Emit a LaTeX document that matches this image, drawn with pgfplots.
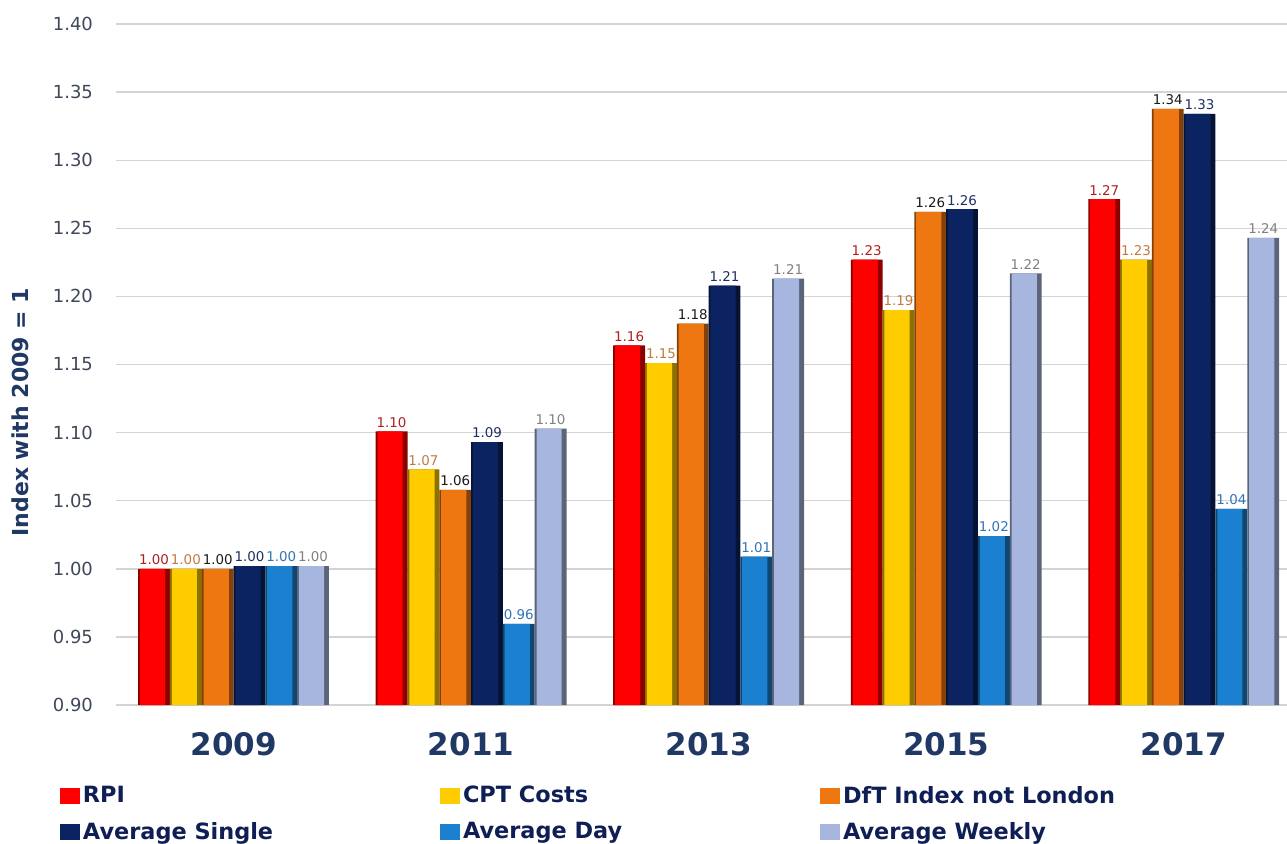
\documentclass[border=0pt]{standalone}
\usepackage{fontspec}
\setmainfont{DejaVu Sans}
\usepackage{pgfplots}
\usepackage{pgfplotstable}
\pgfplotsset{compat=1.18}

\pgfplotstableread{
x rpi    cpt   dft    sgl   day    wk
0 1.000  1.000 1.000  1.002 1.002  1.002
1 1.101  1.073 1.058  1.093 0.9595 1.103
2 1.164  1.151 1.180  1.208 1.009  1.213
3 1.227  1.190 1.262  1.264 1.024  1.217
4 1.2715 1.227 1.3376 1.334 1.044  1.243
}\datatable

\definecolor{cRPI}{HTML}{FF0000}
\definecolor{cCPT}{HTML}{FFCC00}
\definecolor{cDFT}{HTML}{EE7711}
\definecolor{cSGL}{HTML}{0B2361}
\definecolor{cDAY}{HTML}{1B80D0}
\definecolor{cWK}{HTML}{A7B6DE}
\definecolor{lRPI}{HTML}{B01E1E}
\definecolor{lCPT}{HTML}{C07A40}
\definecolor{lDFT}{HTML}{1A1A1A}
\definecolor{lSGL}{HTML}{1F2F5F}
\definecolor{lDAY}{HTML}{2E75B6}
\definecolor{lWK}{HTML}{808080}
\definecolor{yearblue}{HTML}{1F3864}
\definecolor{legblue}{HTML}{0F1F55}
\definecolor{tickgray}{HTML}{3F4858}

\pgfplotsset{
  basebar/.style 2 args={forget plot, draw=none, fill=#1!55!black, bar width=15.9pt, bar shift=#2},
  topbar/.style n args={3}{draw=none, fill=#1, bar width=12.6pt, bar shift=#2-0.75pt,
    nodes near coords={\pgfmathprintnumber[fixed,fixed zerofill,precision=2]{\pgfplotspointmeta}},
    every node near coord/.append style={text=#3, font=\fontsize{6.7}{7}\selectfont, inner sep=1.8pt, xshift=0.75pt}},
}

\begin{document}
\begin{tikzpicture}
\begin{axis}[
  name=ax,
  at={(0,0)}, anchor=south west,
  scale only axis,
  width=585.5pt, height=340.5pt,
  xmin=-0.495, xmax=4.435,
  ymin=0.9, ymax=1.4,
  ybar,
  /pgf/number format/assume math mode=true,
  ytick={0.9,0.95,1.0,1.05,1.1,1.15,1.2,1.25,1.3,1.35,1.4},
  yticklabel style={/pgf/number format/.cd,fixed,fixed zerofill,precision=2,/tikz/.cd,
    font=\fontsize{9}{10}\selectfont, text=tickgray, xshift=-8pt},
  xtick={0,1,2,3,4},
  xticklabels={2009,2011,2013,2015,2017},
  xticklabel style={font=\fontsize{15.5}{16}\selectfont\bfseries, text=yearblue, yshift=-10pt},
  major tick length=0pt,
  axis line style={draw=none},
  ymajorgrids,
  grid style={draw=black!17, line width=0.7pt},
  ylabel={Index with 2009 = 1},
  ylabel style={at={(axis description cs:-0.082,0.43)}, anchor=center,
    font=\fontsize{11}{12}\selectfont\bfseries, text=yearblue},
  legend columns=3,
  legend cell align=left,
  legend image code/.code={\path[#1] (0pt,-4pt) rectangle (10pt,4pt);},
  legend style={at={(0,0)}, anchor=north west, xshift=-28pt, yshift=-39pt,
    draw=none, fill=none, inner sep=0pt, outer sep=0pt,
    font=\fontsize{11.2}{13}\selectfont\bfseries, text=legblue,
    /tikz/column sep=0pt, /tikz/row sep=5pt,
    nodes={inner sep=1.5pt}},
]
\addplot[basebar={cRPI}{-39.75pt}] table[x=x,y=rpi] {\datatable};
\addplot[topbar={cRPI}{-39.75pt}{lRPI}] table[x=x,y=rpi] {\datatable};
\addlegendentry{\makebox[177pt][l]{RPI}}
\addplot[basebar={cCPT}{-23.85pt}] table[x=x,y=cpt] {\datatable};
\addplot[topbar={cCPT}{-23.85pt}{lCPT}] table[x=x,y=cpt] {\datatable};
\addlegendentry{\makebox[177pt][l]{CPT Costs}}
\addplot[basebar={cDFT}{-7.95pt}] table[x=x,y=dft] {\datatable};
\addplot[topbar={cDFT}{-7.95pt}{lDFT}] table[x=x,y=dft] {\datatable};
\addlegendentry{\makebox[177pt][l]{DfT Index not London}}
\addplot[basebar={cSGL}{7.95pt}] table[x=x,y=sgl] {\datatable};
\addplot[topbar={cSGL}{7.95pt}{lSGL}] table[x=x,y=sgl] {\datatable};
\addlegendentry{\makebox[177pt][l]{Average Single}}
\addplot[basebar={cDAY}{23.85pt}] table[x=x,y=day] {\datatable};
\addplot[topbar={cDAY}{23.85pt}{lDAY}] table[x=x,y=day] {\datatable};
\addlegendentry{\makebox[177pt][l]{Average Day}}
\addplot[basebar={cWK}{39.75pt}] table[x=x,y=wk] {\datatable};
\addplot[topbar={cWK}{39.75pt}{lWK}] table[x=x,y=wk] {\datatable};
\addlegendentry{\makebox[177pt][l]{Average Weekly}}
\end{axis}
\pgfresetboundingbox
\path[use as bounding box] ([shift={(-58pt,-69pt)}]ax.south west) rectangle ([shift={(0pt,12pt)}]ax.north east);
\end{tikzpicture}
\end{document}
